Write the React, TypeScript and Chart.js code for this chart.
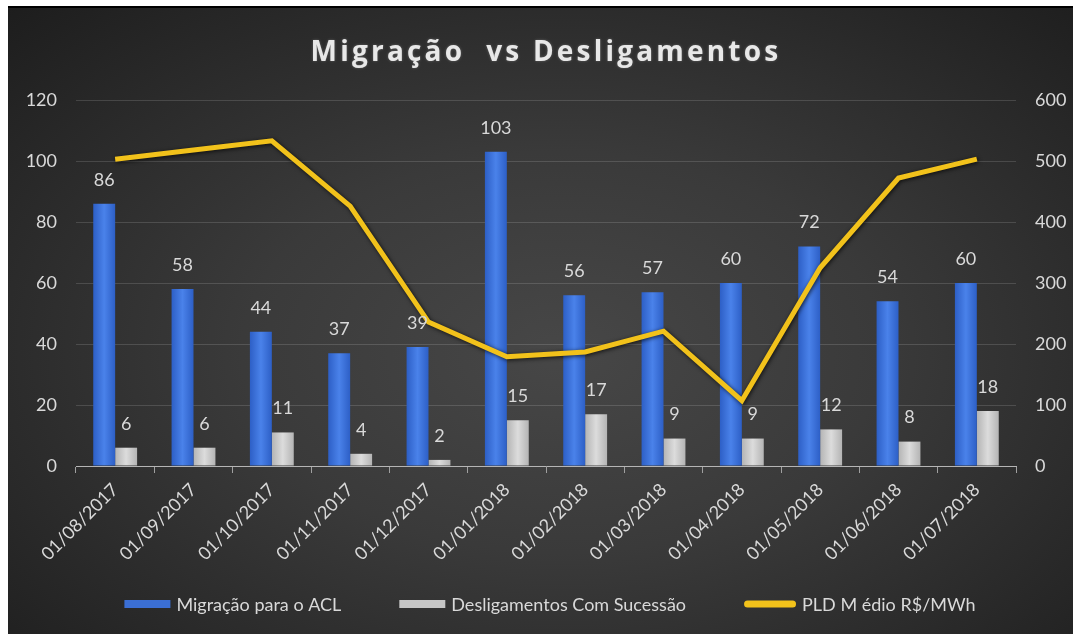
import React, { useEffect, useRef } from 'react';
import { Chart, registerables } from 'chart.js';

Chart.register(...registerables);

const categories = [
  '01/08/2017', '01/09/2017', '01/10/2017', '01/11/2017', '01/12/2017', '01/01/2018',
  '01/02/2018', '01/03/2018', '01/04/2018', '01/05/2018', '01/06/2018', '01/07/2018',
];
const migracao = [86, 58, 44, 37, 39, 103, 56, 57, 60, 72, 54, 60];
const desligamentos = [6, 6, 11, 4, 2, 15, 17, 9, 9, 12, 8, 18];
const pld = [503, 518, 533, 426, 236, 179, 187, 221, 107, 325, 472, 503];

const seriesNames = ['Migração para o ACL', 'Desligamentos Com Sucessão', 'PLD M édio R$/MWh'];
const titleText = 'Migração  vs Desligamentos';

const BLUE = '#3b6fd4';
const GREY = '#c6c6c6';
const YELLOW = '#f2c21b';
const TEXT = '#d9d9d9';
const FONT = 'Lato';
const CAT_PCT = 0.56;

const barFill = (edge: string, mid: string, side: number, solid: string) => (c: any) => {
  const chart = c.chart;
  const xs = chart.scales && chart.scales.x;
  if (!xs || !chart.chartArea || typeof c.dataIndex !== 'number') return solid;
  const center = xs.getPixelForValue(c.dataIndex);
  const catW = (chart.chartArea.right - chart.chartArea.left) / categories.length;
  const w = (catW * CAT_PCT) / 2;
  const left = side < 0 ? center - w : center;
  const g = chart.ctx.createLinearGradient(left, 0, left + w, 0);
  g.addColorStop(0, edge);
  g.addColorStop(0.5, mid);
  g.addColorStop(1, edge);
  return g;
};

const titlePlugin = {
  id: 'customTitle',
  afterDraw(chart: any) {
    const ctx = chart.ctx;
    ctx.save();
    ctx.font = `bold 28px "Open Sans"`;
    (ctx as any).letterSpacing = '3.2px';
    ctx.fillStyle = '#e8e8e8';
    ctx.textAlign = 'center';
    ctx.textBaseline = 'middle';
    ctx.shadowColor = 'rgba(255,255,255,0.25)';
    ctx.shadowBlur = 3;
    ctx.fillText(titleText, 538, 45);
    ctx.restore();
  },
};

// Legend drawn from the chart's own datasets (labels + colours)
const legendPlugin = {
  id: 'customLegend',
  afterDraw(chart: any) {
    const ctx = chart.ctx;
    ctx.save();
    ctx.font = `18px ${FONT}`;
    ctx.textBaseline = 'middle';
    ctx.textAlign = 'left';
    const sw = [46, 46, 52];
    const swColors = [BLUE, GREY, YELLOW];
    const gapText = 6;
    const gapItem = 58;
    const ds = chart.data.datasets;
    const widths = ds.map((d: any, i: number) => sw[i] + gapText + ctx.measureText(d.label).width);
    const total = widths.reduce((a: number, b: number) => a + b, 0) + gapItem * (ds.length - 1);
    let x = 542 - total / 2;
    const y = 596;
    ds.forEach((d: any, i: number) => {
      ctx.fillStyle = swColors[i];
      if (i === 2) {
        const h = 7;
        ctx.beginPath();
        (ctx as any).roundRect(x, y - h / 2, sw[i], h, h / 2);
        ctx.fill();
      } else {
        ctx.fillRect(x, y - 4, sw[i], 8);
      }
      ctx.fillStyle = TEXT;
      ctx.fillText(d.label, x + sw[i] + gapText, y + 1);
      x += widths[i] + gapItem;
    });
    ctx.restore();
  },
};

const barLabelPlugin = {
  id: 'barLabels',
  afterDatasetsDraw(chart: any) {
    const ctx = chart.ctx;
    ctx.save();
    ctx.font = `18px ${FONT}`;
    ctx.fillStyle = TEXT;
    ctx.textAlign = 'center';
    ctx.textBaseline = 'middle';
    [0, 1].forEach((di) => {
      const meta = chart.getDatasetMeta(di);
      const data = chart.data.datasets[di].data;
      meta.data.forEach((bar: any, i: number) => {
        ctx.fillText(String(data[i]), bar.x, bar.y - 24);
      });
    });
    ctx.restore();
  },
};

const lineShadowPlugin = {
  id: 'lineShadow',
  beforeDatasetDraw(chart: any, args: any) {
    if (args.index === 2) {
      const ctx = chart.ctx;
      ctx.save();
      ctx.shadowColor = 'rgba(0,0,0,0.75)';
      ctx.shadowBlur = 4;
      ctx.shadowOffsetX = 1;
      ctx.shadowOffsetY = 1;
    }
  },
  afterDatasetDraw(chart: any, args: any) {
    if (args.index === 2) chart.ctx.restore();
  },
};

export default function App() {
  const ref = useRef<HTMLCanvasElement>(null);

  useEffect(() => {
    if (!ref.current) return;
    const chart = new Chart(ref.current, {
      type: 'bar',
      data: {
        labels: categories,
        datasets: [
          {
            type: 'bar',
            label: seriesNames[0],
            data: migracao,
            backgroundColor: barFill('#2d5fc6', '#4a82ea', -1, BLUE),
            yAxisID: 'y',
            order: 1,
            categoryPercentage: CAT_PCT,
            barPercentage: 1,
          },
          {
            type: 'bar',
            label: seriesNames[1],
            data: desligamentos,
            backgroundColor: barFill('#b4b4b4', '#dcdcdc', 1, GREY),
            yAxisID: 'y',
            order: 1,
            categoryPercentage: CAT_PCT,
            barPercentage: 1,
          },
          {
            type: 'line',
            label: seriesNames[2],
            data: pld,
            borderColor: YELLOW,
            backgroundColor: YELLOW,
            borderWidth: 5,
            pointRadius: 0,
            tension: 0,
            borderJoinStyle: 'miter',
            yAxisID: 'y1',
            order: 0,
          } as any,
        ],
      },
      options: {
        responsive: false,
        animation: false,
        layout: { padding: { top: 92, left: 0, right: 0, bottom: 56 } },
        plugins: {
          title: { display: false },
          tooltip: { enabled: false },
          legend: { display: false },
        },
        scales: {
          x: {
            afterFit: (s: any) => { s.height = 112; },
            grid: {
              display: true,
              drawOnChartArea: false,
              drawTicks: true,
              tickLength: 7,
              color: '#a0a0a0',
              offset: true,
            },
            border: { display: true, color: '#b5b5b5', width: 1 },
            ticks: {
              color: TEXT,
              font: { family: FONT, size: 18 },
              maxRotation: 45,
              minRotation: 45,
              padding: 6,
              autoSkip: false,
            },
          },
          y: {
            position: 'left',
            min: 0,
            max: 120,
            afterFit: (s: any) => { s.width = 68; },
            grid: { color: 'rgba(255,255,255,0.14)', drawTicks: false, lineWidth: 1 },
            border: { display: false },
            ticks: { stepSize: 20, color: TEXT, font: { family: FONT, size: 18 }, padding: 19 },
          },
          y1: {
            position: 'right',
            min: 0,
            max: 600,
            afterFit: (s: any) => { s.width = 57; },
            grid: { drawOnChartArea: false, drawTicks: false },
            border: { display: false },
            ticks: { stepSize: 100, color: TEXT, font: { family: FONT, size: 18 }, padding: 19 },
          },
        },
      },
      plugins: [titlePlugin, barLabelPlugin, lineShadowPlugin, legendPlugin],
    });
    return () => chart.destroy();
  }, []);

  return (
    <div
      style={{
        position: 'fixed',
        left: 8,
        top: 6,
        width: 1065,
        height: 626,
        borderTop: '2px solid #000',
        background:
          'radial-gradient(ellipse 75% 80% at 52% 55%, #474747 0%, #3a3a3a 40%, #262626 80%, #1c1c1c 100%)',
      }}
    >
      <canvas ref={ref} width={1065} height={626} style={{ display: 'block' }} />
    </div>
  );
}
